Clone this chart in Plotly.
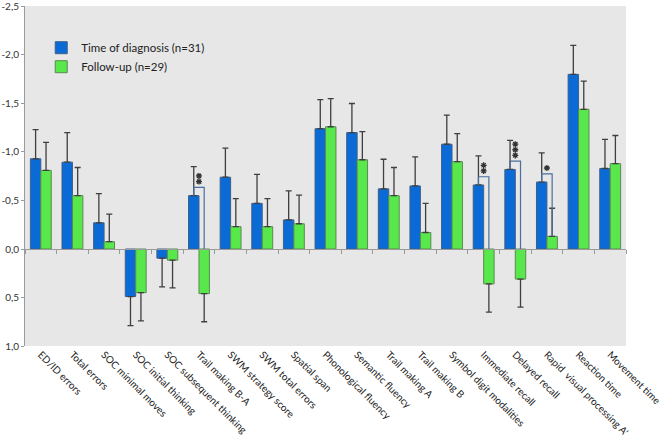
import plotly.graph_objects as go

categories = ["ED/ID errors", "Total errors", "SOC minimal moves", "SOC initial thinking",
              "SOC subsequent thinking", "Trail making B-A", "SWM strategy score", "SWM total errors",
              "Spatial span", "Phonological fluency", "Semantic fluency", "Trail making A",
              "Trail making B", "Symbol digit modalities", "Immediate recall", "Delayed recall",
              "Rapid  visual processing A'", "Reaction time", "Movement time"]

diagnosis = [-0.93, -0.895, -0.27, 0.49, 0.095, -0.55, -0.74, -0.47, -0.30, -1.24,
             -1.20, -0.62, -0.65, -1.08, -0.66, -0.82, -0.69, -1.80, -0.83]
diagnosis_err = [0.30, 0.305, 0.30, 0.30, 0.295, 0.30, 0.30, 0.30, 0.30, 0.30,
                 0.30, 0.305, 0.30, 0.30, 0.30, 0.30, 0.30, 0.30, 0.30]

followup = [-0.81, -0.55, -0.075, 0.45, 0.115, 0.46, -0.23, -0.23, -0.26, -1.26,
            -0.92, -0.55, -0.17, -0.90, 0.36, 0.31, -0.13, -1.44, -0.88]
followup_err = [0.29, 0.29, 0.285, 0.29, 0.285, 0.29, 0.29, 0.29, 0.295, 0.29,
                0.29, 0.29, 0.30, 0.29, 0.29, 0.29, 0.29, 0.29, 0.29]

sig_categories = ["Trail making B-A", "Immediate recall", "Delayed recall", "Rapid  visual processing A'"]
sig_stars = [2, 2, 3, 1]

y_ticks = [-2.5, -2.0, -1.5, -1.0, -0.5, 0.0, 0.5, 1.0]

BLUE = "#0A6AD6"
GREEN = "#58E84B"
ERR = "#3f3f3f"


def err_plus(vals, errs):
    return [e if v > 0 else 0 for v, e in zip(vals, errs)]


def err_minus(vals, errs):
    return [e if v < 0 else 0 for v, e in zip(vals, errs)]


fig = go.Figure()
fig.add_trace(go.Bar(
    x=categories, y=diagnosis, name="Time of diagnosis (n=31)",
    marker=dict(color=BLUE, line=dict(color="#3d5f8a", width=1)),
    error_y=dict(type="data", symmetric=False, array=err_plus(diagnosis, diagnosis_err),
                 arrayminus=err_minus(diagnosis, diagnosis_err), color=ERR, thickness=1.3, width=3),
))
fig.add_trace(go.Bar(
    x=categories, y=followup, name="Follow-up (n=29)",
    marker=dict(color=GREEN, line=dict(color="#5a8a50", width=1)),
    error_y=dict(type="data", symmetric=False, array=err_plus(followup, followup_err),
                 arrayminus=err_minus(followup, followup_err), color=ERR, thickness=1.3, width=3),
))
# invisible trace for the category tick axis drawn at zero
fig.add_trace(go.Scatter(x=categories, y=[None] * len(categories), xaxis="x2", yaxis="y",
                         showlegend=False, hoverinfo="skip", mode="markers"))

# significance brackets and stacked asterisks
half = 0.165
star_x, star_y = [], []
for cat, n in zip(sig_categories, sig_stars):
    i = categories.index(cat)
    b = diagnosis[i]
    g = followup[i]
    top = b - 0.085
    gtop = min(g, 0)
    xb = i - half
    xg = i + half
    fig.add_shape(type="path", xref="x", yref="y",
                  path=f"M {xb},{b} L {xb},{top} L {xg},{top} L {xg},{gtop}",
                  line=dict(color="#4a6e9e", width=1.2))
    for k in range(n):
        star_x.append(cat)
        star_y.append(top - 0.06 - 0.058 * k)

fig.add_trace(go.Scatter(x=star_x, y=star_y, mode="markers", showlegend=False, hoverinfo="skip",
                         marker=dict(symbol="asterisk-open", size=5, color="#333333",
                                     line=dict(color="#333333", width=1.3))))

fig.update_layout(
    width=662, height=438,
    margin=dict(l=25, r=36, t=6, b=92),
    paper_bgcolor="white", plot_bgcolor="#E7E7E7",
    barmode="group", bargap=0.34, bargroupgap=0.0,
    font=dict(family="Lato, Noto Sans, sans-serif", color="#222"),
    showlegend=True,
    legend=dict(x=0.027, y=0.92, xanchor="left", yanchor="top", bgcolor="rgba(0,0,0,0)",
                font=dict(size=11.5, color="#222"), itemwidth=30, tracegroupgap=2),
    xaxis=dict(type="category", showgrid=False, showline=False, ticks="", tickangle=45,
               tickfont=dict(size=10, color="#222"), automargin=False, range=[-0.5, 18.5]),
    xaxis2=dict(type="category", overlaying="x", matches="x", anchor="free",
                position=1.0 / 3.5, side="bottom", showticklabels=False, showgrid=False,
                showline=True, linecolor="#9a9a9a", linewidth=1, ticks="outside", ticklen=4,
                tickcolor="#9a9a9a", tickson="boundaries"),
    yaxis=dict(range=[1.0, -2.505], showgrid=False, zeroline=False, showline=True,
               linecolor="#9a9a9a", linewidth=1, ticks="outside", ticklen=3, tickcolor="#9a9a9a",
               tickvals=y_ticks, ticktext=[f"{v:.1f}".replace(".", ",") for v in y_ticks],
               tickfont=dict(size=10, color="#333"), automargin=False, ticklabeloverflow="allow"),
)

fig.write_html("out.html", post_script="document.body.style.margin='0';",
               config={"displayModeBar": False})
